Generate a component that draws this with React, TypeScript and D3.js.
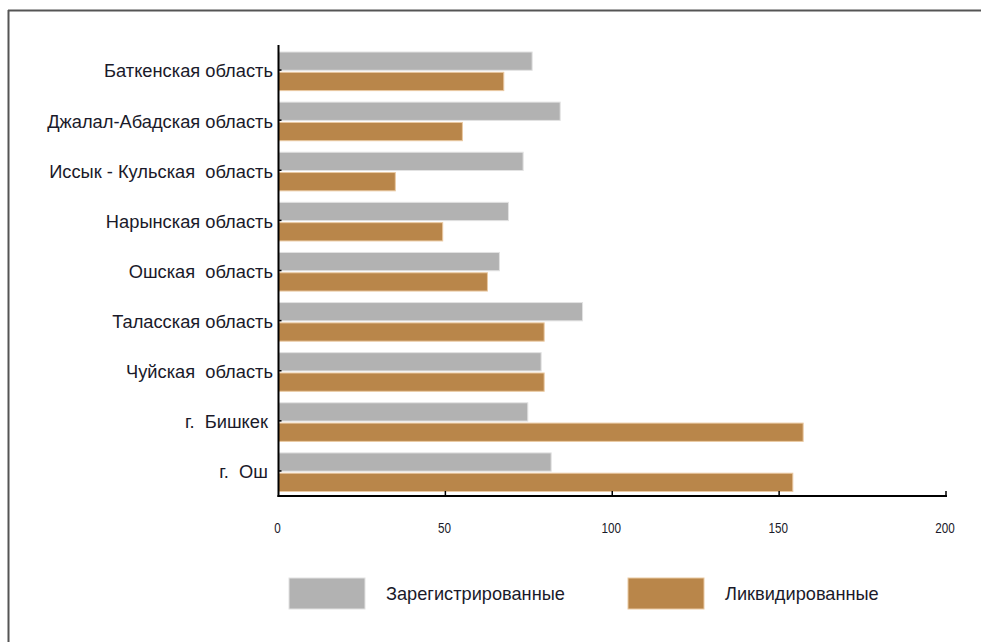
import React from "react";
import * as d3 from "d3";

const categories = [
  "Баткенская область",
  "Джалал-Абадская область",
  "Иссык - Кульская  область",
  "Нарынская область",
  "Ошская  область",
  "Таласская область",
  "Чуйская  область",
  "г.  Бишкек ",
  "г.  Ош ",
];
const registered = [76, 84.4, 73.3, 68.9, 66.2, 91.1, 78.7, 74.7, 81.7];
const liquidated = [67.5, 55.1, 35, 49.2, 62.6, 79.6, 79.6, 157.2, 154.1];
const seriesNames = ["Зарегистрированные", "Ликвидированные"];
const seriesColors = ["#b2b2b2", "#b9864a"];
const seriesStroke = ["#e2e2e2", "#eac9a2"];
const xTicks = [0, 50, 100, 150, 200];

const W = 981;
const H = 642;

export default function App() {
  const x = d3.scaleLinear().domain([0, 200]).range([278.5, 946]);
  const y = d3.scaleBand<string>().domain(categories).range([45, 496]).padding(0);
  const sub = d3
    .scaleBand<number>()
    .domain([0, 1])
    .range([7, y.bandwidth() - 4.5])
    .paddingInner(0.1);
  const values = [registered, liquidated];
  const font = "'Liberation Sans', Arial, sans-serif";
  const legendX = [289, 628];
  return (
    <svg
      width={W}
      height={H}
      style={{ position: "absolute", left: 0, top: 0, background: "#fff" }}
    >
      <line x1={8.5} y1={10} x2={8.5} y2={H} stroke="#555" strokeWidth={2} />
      <line x1={8} y1={10.5} x2={W} y2={10.5} stroke="#555" strokeWidth={2} />

      {categories.map((c, i) =>
        values.map((vals, s) => (
          <rect
            key={c + s}
            x={x(0)}
            y={(y(c) as number) + (sub(s) as number)}
            width={x(vals[i]) - x(0)}
            height={sub.bandwidth()}
            fill={seriesColors[s]}
            stroke={seriesStroke[s]}
            strokeWidth={1}
          />
        ))
      )}

      {/* y axis */}
      <line x1={x(0)} y1={45} x2={x(0)} y2={497} stroke="#000" strokeWidth={2} />
      {categories.map((c) => {
        const cy = (y(c) as number) + y.bandwidth() / 2;
        return (
          <g key={c}>
            <line x1={x(0)} x2={x(0) + 3} y1={cy} y2={cy} stroke="#000" strokeWidth={1.5} />
            <text
              x={273}
              y={cy + 1}
              dy="0.35em"
              textAnchor="end"
              fontFamily={font}
              fontSize={18.3}
              fill="#1a1a2a"
              style={{ whiteSpace: "pre" }}
            >
              {c}
            </text>
          </g>
        );
      })}

      {/* x axis */}
      <line x1={x(0) - 1} y1={496} x2={x(200) + 1} y2={496} stroke="#000" strokeWidth={2} />
      {xTicks.map((t) => (
        <g key={t}>
          {t > 0 && (
            <line x1={x(t)} x2={x(t)} y1={496} y2={491} stroke="#000" strokeWidth={1.5} />
          )}
          <text
            transform={`translate(${x(t) - 1},528) scale(0.78,1)`}
            dy="0.35em"
            textAnchor="middle"
            fontFamily={font}
            fontSize={15}
            fill="#1a1a2a"
          >
            {t}
          </text>
        </g>
      ))}

      {/* legend */}
      {seriesNames.map((n, s) => (
        <g key={n}>
          <rect
            x={legendX[s]}
            y={578}
            width={76}
            height={31}
            fill={seriesColors[s]}
            stroke={seriesStroke[s]}
            strokeWidth={1}
          />
          <text
            x={legendX[s] + 97}
            y={594}
            dy="0.35em"
            fontFamily={font}
            fontSize={18.2}
            fill="#1a1a2a"
          >
            {n}
          </text>
        </g>
      ))}
    </svg>
  );
}
